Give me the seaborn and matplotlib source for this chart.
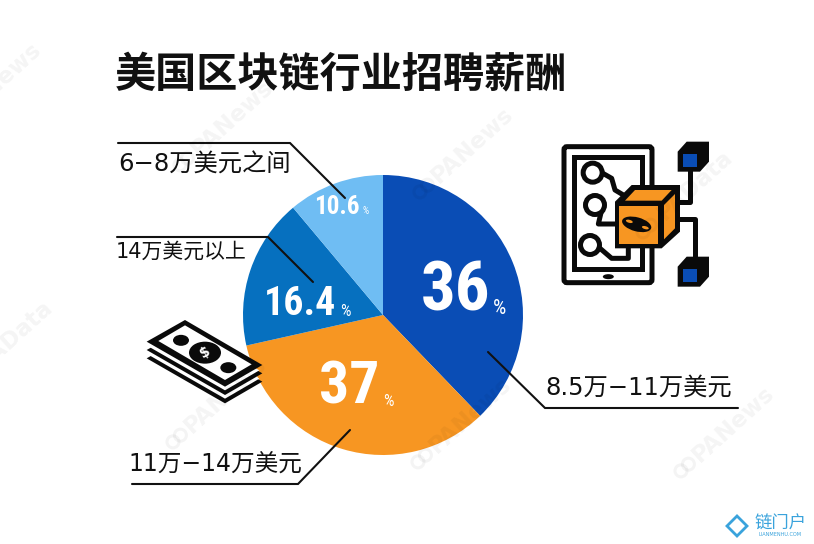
import math
import matplotlib
matplotlib.use("Agg")
import matplotlib.pyplot as plt
from matplotlib import font_manager as fm
from matplotlib.patches import Polygon, Circle, FancyBboxPatch, Rectangle, Ellipse
import seaborn as sns

sns.set_theme(style="white")
CJK = ['Noto Sans CJK SC', 'DejaVu Sans']
LABEL = ['DejaVu Sans', 'Noto Sans CJK SC']
plt.rcParams['font.family'] = CJK

title = "美国区块链行业招聘薪酬"
categories = ["8.5万−11万美元", "11万−14万美元", "14万美元以上", "6−8万美元之间"]
printed_pct = ["36", "37", "16.4", "10.6"]
# slice sizes as drawn in the picture (they differ slightly from the printed numbers)
drawn_share = [37.8, 33.7, 17.4, 11.1]
colors = ["#0a4db5", "#f79622", "#0670bf", "#6fbdf3"]

# pick a condensed family if one is present
NUM = "Roboto"
names = {f.name for f in fm.fontManager.ttflist}
for cand in ["Liberation Sans Narrow", "Roboto Condensed", "Open Sans Condensed", "Noto Sans Condensed"]:
    if cand in names:
        NUM = cand
        break
condensed = NUM != "Roboto"

fig = plt.figure(figsize=(8.14, 5.44), dpi=100, facecolor="white")
ax = fig.add_axes([0, 0, 1, 1])
ax.pie(drawn_share, colors=colors, center=(383, 315), radius=140,
       startangle=-90, counterclock=True, wedgeprops=dict(linewidth=0))
ax.set_xlim(0, 814)
ax.set_ylim(544, 0)
ax.set_aspect("equal")
ax.axis("off")

# watermarks
ca, sa = math.cos(math.radians(42)), math.sin(math.radians(42))
for x, y, s in [(0, 80, "PANews"), (232, 118, "PANews"), (472, 145, "PANews"),
                (695, 185, "PAData"), (15, 335, "PAData"), (225, 395, "PANews"),
                (470, 415, "PANews"), (733, 424, "PANews")]:
    ax.text(x, y, s, rotation=42, ha="center", va="center", clip_on=True,
            fontsize=16.5, fontweight="bold", family="DejaVu Sans", color="#000000",
            alpha=0.045, zorder=8)
    for d in (60, 70):
        ax.add_patch(Circle((x - d * ca, y + d * sa), 6, fc="none", ec="#000000",
                            lw=2.2, alpha=0.045, zorder=8))

ax.text(115, 74, title, fontsize=29.6, fontweight="bold", ha="left", va="center", color="#111111")

# percentages
for (x, y, fs), (px, py, pfs), s in zip(
        [(456, 292, 38), (349, 387, 33), (300, 304, 22), (337, 207, 14)],
        [(499, 308, 15), (388, 402, 12), (345, 311, 12), (366, 211, 7)],
        printed_pct):
    ax.text(x, y, s, family=NUM, fontweight="bold", fontsize=fs * (1.3 if condensed else 1), color="white",
            ha="center", va="center", zorder=5)
    ax.text(px, py, "%", family=NUM, fontsize=pfs, color="white", ha="center", va="center", zorder=5)

# leader lines and labels
leaders = [([488, 545, 738], [352, 408, 408]),
           ([350, 298, 132], [430, 484, 484]),
           ([117, 268, 313], [237, 237, 282]),
           ([118, 290, 345], [143, 143, 198])]
for xs, ys in leaders:
    ax.plot(xs, ys, color="#111111", lw=1.5, zorder=6, solid_joinstyle="miter")
for (x, y, fs), s in zip([(545, 388, 17.5), (128, 465, 17), (116, 252, 15), (118, 165, 17.5)], categories):
    ax.text(x, y, s, family=LABEL, fontsize=fs, ha="left", va="center", color="#111111", zorder=6)

K = "#0a0a0a"
def poly(pts, fc=K, ec="none", lw=0, z=7):
    ax.add_patch(Polygon(pts, closed=True, fc=fc, ec=ec, lw=lw, zorder=z, joinstyle="round"))

# money stack (zoom coordinates converted)
def m(p):
    return [(100 + a / 3, 130 + b / 3) for a, b in p]
for dy in (50, 25):
    poly(m([(140, 635 + dy), (255, 570 + dy), (487, 705 + dy), (375, 770 + dy)]), fc=K, z=7)
    poly(m([(150, 633 + dy - 6), (255, 572 + dy - 6), (478, 702 + dy - 6), (375, 762 + dy - 6)]), fc="white", z=7)
poly(m([(140, 635), (255, 570), (487, 705), (375, 770)]), fc=K, z=7)
poly(m([(175, 633), (255, 586), (455, 703), (375, 750)]), fc="white", z=7)
ax.add_patch(Ellipse((100 + 315 / 3, 130 + 668 / 3), 32, 22, fc=K, ec="none", zorder=7))
ax.add_patch(Ellipse((100 + 243 / 3, 130 + 631 / 3), 16, 11, fc=K, ec="none", zorder=7))
ax.add_patch(Ellipse((100 + 385 / 3, 130 + 713 / 3), 16, 11, fc=K, ec="none", zorder=7))
ax.text(100 + 315 / 3, 130 + 668 / 3, "$", color="white", fontsize=10, fontweight="bold",
        family="DejaVu Sans", ha="center", va="center", rotation=30, zorder=8)

# tablet / blockchain icon
def t(a, b):
    return (540 + a / 3, 130 + b / 3)
def path(pts, lw=3.6):
    xy = [t(*p) for p in pts]
    ax.plot([a for a, _ in xy], [b for _, b in xy], color=K, lw=lw, zorder=7,
            solid_joinstyle="round", solid_capstyle="round")
ax.add_patch(FancyBboxPatch(t(72, 50), 88, 136, boxstyle="round,pad=0,rounding_size=3",
                            fc="white", ec=K, lw=3.6, zorder=6))
ax.add_patch(Rectangle(t(102, 80), 68, 112, fc="white", ec=K, lw=3.6, zorder=6))
ax.add_patch(Ellipse(t(205, 440), 11, 5, fc=K, ec="none", zorder=7))
path([(180, 125), (215, 145), (225, 180), (250, 195)])
path([(185, 240), (175, 282), (240, 282)])
path([(180, 355), (215, 385), (265, 385), (265, 350)])
for a, b in [(158, 128), (165, 225), (150, 345)]:
    ax.add_patch(Circle(t(a, b), 9.5, fc="white", ec=K, lw=3.6, zorder=7))
path([(400, 215), (450, 215), (450, 110)])
path([(400, 268), (465, 268), (465, 390)])
# orange cube
poly([t(225, 215), t(275, 165), t(420, 165), t(420, 305), t(365, 355), t(225, 355)], fc=K, z=7)
poly([t(238, 228), t(355, 228), t(355, 342), t(238, 342)], fc="#f79622", z=7)
poly([t(255, 212), t(285, 180), t(395, 180), t(365, 212)], fc="#f79622", z=7)
poly([t(372, 225), t(405, 192), t(405, 295), t(372, 328)], fc="#f79622", z=7)
ax.add_patch(Ellipse(t(290, 283), 30, 14, angle=15, fc=K, ec="none", zorder=8))
ax.add_patch(Ellipse(t(268, 274), 7, 3, angle=15, fc="#f79622", ec="none", zorder=8))
ax.add_patch(Ellipse(t(316, 293), 7, 3, angle=15, fc="#f79622", ec="none", zorder=8))
# blue cubes
for dy in (0, 345):
    poly([t(413, 65 + dy), t(440, 35 + dy), t(507, 35 + dy), t(507, 95 + dy), t(480, 125 + dy), t(413, 125 + dy)], fc=K, z=7)
    poly([t(430, 72 + dy), t(472, 72 + dy), t(472, 112 + dy), t(430, 112 + dy)], fc="#0a4db5", z=8)

# logo
LB = "#3aa3dc"
ax.add_patch(Polygon([(727, 526), (737, 516), (747, 526), (737, 536)], closed=True, fc="none", ec=LB, lw=2, zorder=7))
ax.text(781, 524, "链门户", fontsize=12.5, color=LB, ha="center", va="center", zorder=7)
ax.text(780, 535, "LIANMENHU.COM", fontsize=3.6, color=LB, ha="center", va="center",
        family="DejaVu Sans", zorder=7)

fig.savefig("out.png", dpi=100)
